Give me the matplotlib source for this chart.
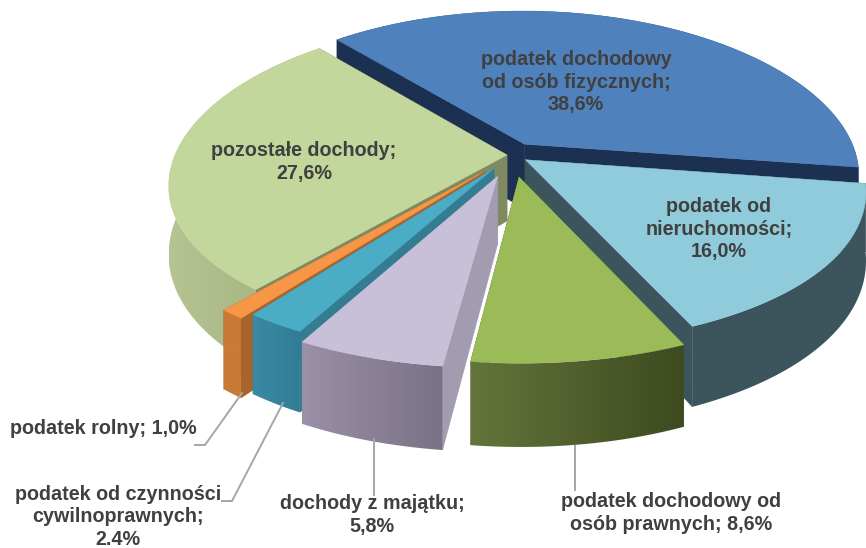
import numpy as np
import matplotlib
matplotlib.use('Agg')
import matplotlib.pyplot as plt
from matplotlib.colors import LinearSegmentedColormap
from matplotlib.patches import Polygon

names = ['podatek dochodowy\nod osób fizycznych;\n38,6%', 'podatek od\nnieruchomości;\n16,0%',
         'podatek dochodowy od\nosób prawnych; 8,6%', 'dochody z majątku;\n5,8%',
         'podatek od czynności\ncywilnoprawnych;\n2.4%', 'podatek rolny; 1,0%', 'pozostałe dochody;\n27,6%']
values = [38.6, 16.0, 8.6, 5.8, 2.4, 1.0, 27.6]

top_colors = ['#4f81bd', '#8fcbda', '#9bbb59', '#c8c0d9', '#4bacc6', '#f79646', '#c3d69b']
wall_colors = ['#1c3151', '#3c545c', '#4f5f2d', '#a39bb0', '#347c92', '#a8642a', '#7f8a60']
rim_left = ['#1c3151', '#3c545c', '#64753a', '#9a90a8', '#3a8aa5', '#c87a37', '#b5c492']
rim_right = ['#1c3151', '#3c545c', '#3d4a20', '#7a7285', '#317c95', '#c87a37', '#a0ae7b']
explode = [0.08, 0.05, 0.14, 0.14, 0.10, 0.13, 0.015]
radius = [1.0, 1.0, 0.975, 1.0, 1.0, 1.0, 1.0]
draw_order = [0, 6, 1, 5, 4, 2, 3]

label_pos = [(576, 82), (719, 229), (671, 513), (372, 515), (118, 517), (103, 429), (304, 162)]

# leader lines, from label to slice
leaders = [([195, 205, 242], [445, 445, 393]),
           ([222, 232, 283], [501, 501, 403]),
           ([374, 374], [439, 495]),
           ([575, 575], [446, 490])]

# projection of the tilted disc
CX, CY = 512, 155
RX, RY, PX, PY, DEPTH = 332, 156, 0.19, 0.149, 66
START = -40.5


def project(x, y, z=0.0):
    return CX + RX * x / (1 + PX * y), CY - RY * y / (1 + PY * y) + DEPTH * z / (1 + PX * y)


fig = plt.figure(figsize=(8.66, 5.48), dpi=100)
ax = fig.add_axes([0, 0, 1, 1])

edges = START + np.concatenate([[0], np.cumsum(values)]) * 360 / sum(values)
grad = np.linspace(0, 1, 256).reshape(1, -1)
z = 1

for i in draw_order:
    a0, a1 = edges[i], edges[i + 1]
    mid = np.radians((a0 + a1) / 2)
    ox, oy = explode[i] * np.sin(mid), explode[i] * np.cos(mid)
    t = np.radians(np.linspace(a0, a1, max(int(a1 - a0) * 2, 12)))
    xs, ys = ox + radius[i] * np.sin(t), oy + radius[i] * np.cos(t)

    apex_top = project(ox, oy)
    apex_bot = project(ox, oy, 1)
    arc_top = project(xs, ys)
    arc_bot = project(xs, ys, 1)

    # radial walls
    for j in [0, -1]:
        ax.fill([apex_top[0], arc_top[0][j], arc_bot[0][j], apex_bot[0]],
                [apex_top[1], arc_top[1][j], arc_bot[1][j], apex_bot[1]],
                color=wall_colors[i], lw=0.3, zorder=z)
    z += 1

    # outer rim with a left to right gradient
    rim_xy = np.c_[np.r_[arc_top[0], arc_bot[0][::-1]], np.r_[arc_top[1], arc_bot[1][::-1]]]
    rim = Polygon(rim_xy, closed=True, fc='none', ec='none', transform=ax.transData)
    ax.add_patch(rim)
    cmap = LinearSegmentedColormap.from_list('rim', [rim_left[i], rim_right[i]])
    im = ax.imshow(grad, cmap=cmap, aspect='auto', zorder=z, interpolation='bilinear',
                   extent=[rim_xy[:, 0].min(), rim_xy[:, 0].max(), rim_xy[:, 1].max(), rim_xy[:, 1].min()])
    im.set_clip_path(rim)
    z += 1

    # top face
    ax.fill(np.r_[apex_top[0], arc_top[0]], np.r_[apex_top[1], arc_top[1]],
            color=top_colors[i], lw=0.3, zorder=z)
    z += 1

for lx, ly in leaders:
    ax.plot(lx, ly, color='#a6a6a6', lw=1.4, solid_joinstyle='miter', zorder=z)

for name, (x, y) in zip(names, label_pos):
    ax.text(x, y, name, ha='center', va='center', fontsize=14.2, fontweight='bold',
            family='Liberation Sans', color='#404040', linespacing=1.25, zorder=z + 1)

ax.set_xlim(0, 866)
ax.set_ylim(548, 0)
ax.axis('off')

fig.savefig('out.png', dpi=100, facecolor='white')
